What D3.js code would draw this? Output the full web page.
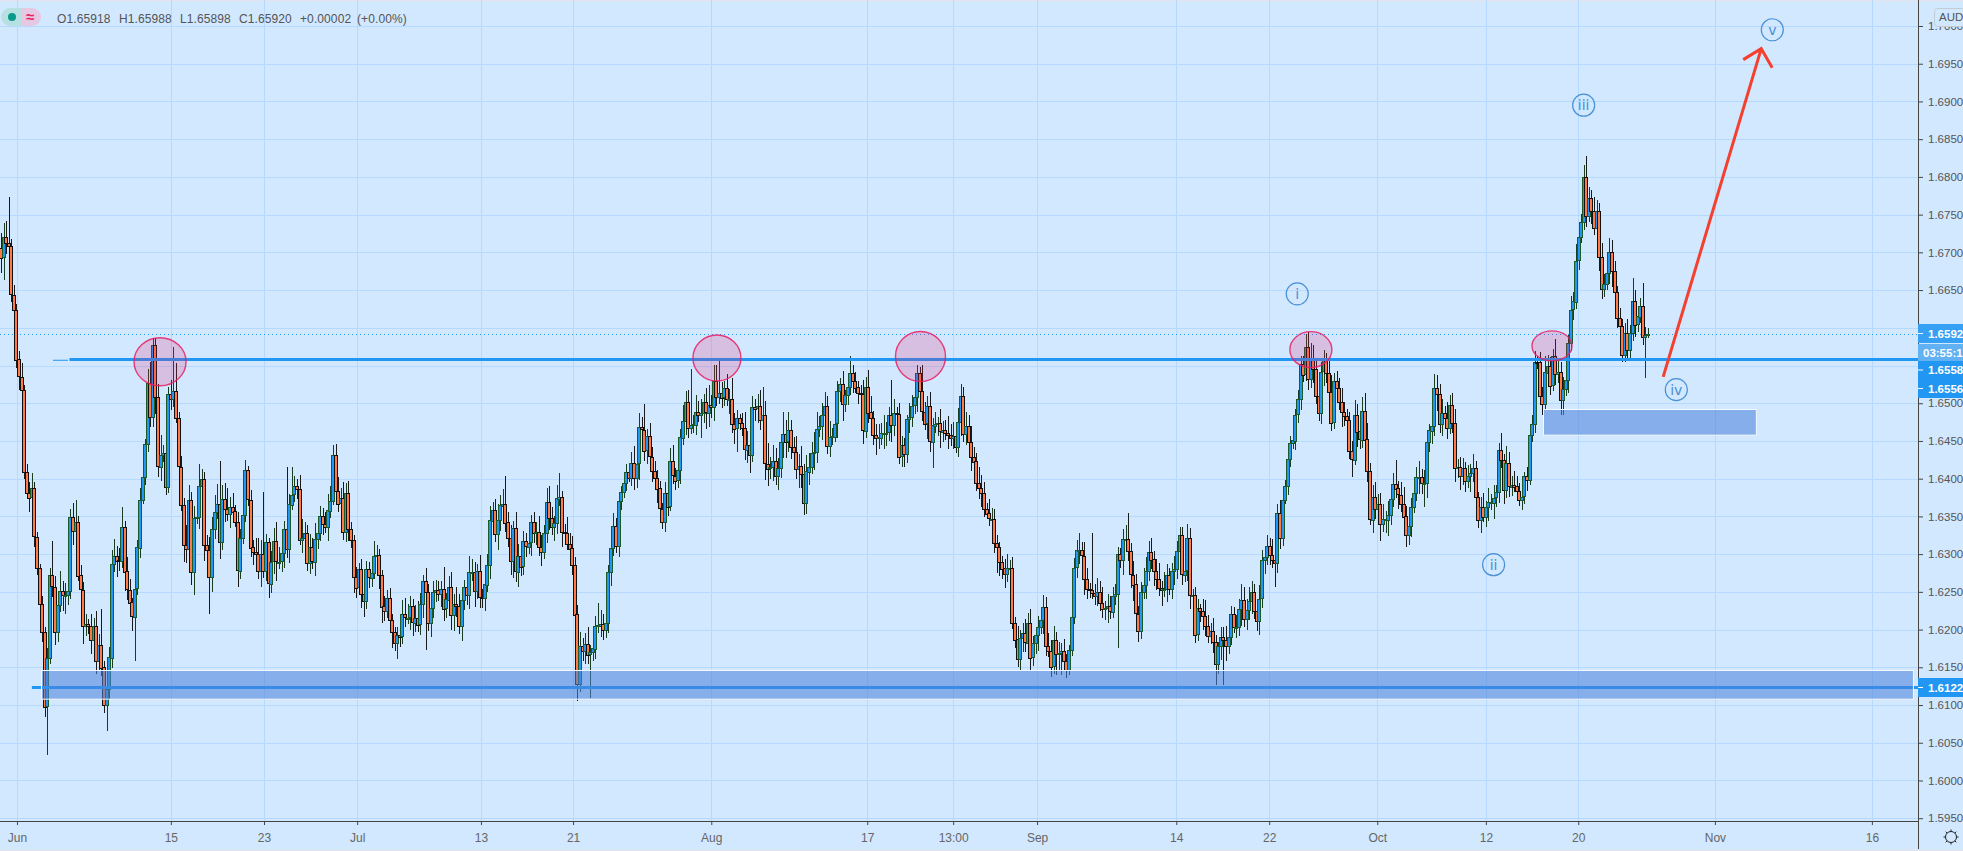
<!DOCTYPE html>
<html>
<head>
<meta charset="utf-8">
<title>AUD chart</title>
<script src="https://cdn.jsdelivr.net/npm/d3@7/dist/d3.min.js"></script>
<style>
  html, body { margin: 0; padding: 0; background: #d1e8ff; overflow: hidden; }
  svg { display: block; font-family: "Liberation Sans", Arial, sans-serif; }
  .domain { display: none; }
</style>
</head>
<body>
<svg id="chart" width="1963" height="851"></svg>
<script>
// all candle values are in pips above 1.6000
const firstOpen = 706;

const closes = [
  693,720,712,708,644,624,558,535,518,409,
  381,375,387,323,282,234,197,98,162,272,
  257,197,233,251,246,246,251,349,331,343,
  272,253,205,208,205,186,205,159,180,150,
  100,121,163,287,298,292,291,336,277,253,
  236,217,254,309,372,402,446,527,482,577,
  508,416,432,434,389,512,505,516,480,416,
  365,312,307,372,277,348,349,390,399,312,
  305,269,333,356,367,316,373,360,354,363,
  357,342,278,322,352,411,372,309,303,300,
  278,300,278,316,261,290,317,290,290,301,
  333,306,366,379,390,386,318,321,328,288,
  309,290,320,328,350,340,336,358,371,432,
  384,367,374,329,381,333,319,270,256,280,
  247,238,280,269,275,298,299,273,231,225,
  242,213,197,183,193,191,220,216,216,231,
  210,216,207,234,265,250,209,229,250,253,
  248,254,228,240,257,220,234,231,204,239,
  256,246,276,276,251,277,243,242,260,286,
  345,359,327,345,
  // from 21 Jul
  365,367,342,321,290,334,277,298,284,317,
  310,315,342,328,329,309,303,328,369,348,
  336,341,374,376,329,328,314,308,286,220,
  127,178,172,181,167,170,175,205,206,208,
  200,209,276,308,337,310,370,382,394,409,
  401,421,401,420,468,465,437,456,429,410,
  401,387,360,343,381,363,423,404,398,411,
  455,477,502,467,471,472,489,485,487,501,
  488,498,495,530,509,514,508,520,505,506,
  473,467,480,474,467,439,445,432,495,493,
  496,478,484,420,414,415,423,403,414,448,
  459,449,464,442,435,413,417,406,367,410,
  416,434,435,466,470,484,496,443,455,456,
  473,516,525,499,511,522,540,530,521,513,
  512,464,522,488,480,458,454,455,461,461,
  461,484,471,487,486,429,444,432,479,482,
  497,508,540,516,489,473,496,449,471,473,
  474,463,465,461,458,454,457,442,475,510,
  459,470,449,429,423,394,387,381,360,354,
  347,347,315,310,290,
  // late Aug to mid Oct
  281,273,281,282,209,187,161,189,195,183,
  209,163,182,193,204,213,230,178,172,151,
  186,168,169,172,159,147,173,217,282,305,
  305,298,267,254,253,249,245,250,235,227,
  228,231,224,245,247,300,292,320,320,304,
  273,260,221,198,250,259,278,303,293,277,
  267,255,253,254,273,254,278,280,304,325,
  273,278,321,245,246,193,228,224,218,205,
  192,198,183,154,178,190,186,178,190,220,
  203,203,227,239,214,226,238,250,225,212,
  241,292,296,311,299,292,288,354,321,372,
  390,426,447,451,485,505,552,538,574,531,
  558,545,509,487,542,557,540,515,474,529,
  520,501,488,483,478,437,426,485,463,452,
  490,452,410,346,376,360,367,340,346,346,
  352,373,393,387,379,367,350,325,337,362,
  381,402,402,394,394,448,464,470,520,512,
  472,487,480,467,498,474,415,415,403,414,
  397,404,408,414,376,346,363,350,363,369,
  369,375,382,438,
  // last stretch
  425,385,421,390,392,390,384,372,376,403,
  398,458,473,555,554,509,498,541,550,524,
  562,538,541,504,519,531,580,624,635,689,
  720,740,800,748,772,755,733,755,694,652,
  658,672,700,675,647,613,602,564,593,571,
  593,636,604,615,629,588,591,592
];

// typical wick lengths, bar by bar
const wickUp = [
  19,30,22,14,10,13,8,11,18,6, 10,14,21,8,6,5,11,6,13,10,
  22,14,18,26,13,16,22,11,19,29, 8,14,10,13,6,16,11,19,14,10,
  8,6,14,18,22,13,16,26,8,19, 14,6,11,10,16,13,6,19,22,10,
  14,18,26,11,8,10,19,22,13,8, 14,10,26,19,11,16,22,29,14,10,
  13,18,16,22,26,14,19,21,27,13, 18,8,14,11,19,14,6,13,10,18,
  22,19,14,11,6,14,18,26,19,14, 11,21,14,18,13,10,19,26,14,11,
  18,13,21,19,14,11,16,22,19,13, 10,18,14,22,13,16,10,6,13,8,
  14,8,11,10,22,19,13,8,6,14, 10,13,8,6,11,10,19,22,18,14,
  10,16,22,14,8,21,10,18,14,13, 11,10,16,8,14,19,13,22,16,11,
  10,14,21,18,13,10,22,11,18,14, 19,10,14,22,
  13,19,10,14,18,10,22,16,13,14, 11,18,10,14,13,22,16,11,18,19,
  14,10,18,13,8,11,21,14,16,10, 13,19,11,14,22,10,16,13,8,18,
  13,16,10,14,18,11,13,8,14,10, 6,14,22,13,19,14,16,10,18,13,
  14,11,10,8,14,13,18,22,10,8, 11,21,14,16,10,13,22,14,18,11,
  19,26,13,14,21,18,14,10,19,13, 10,14,11,6,13,21,18,16,14,11,
  16,22,14,19,27,14,22,18,13,11, 30,19,24,14,13,22,16,26,14,21,
  18,14,27,22,13,16,19,14,21,11, 10,14,8,18,6,13,22,16,11,8,
  11,19,13,22,21,10,14,18,13,24, 14,11,18,19,8,14,13,10,6,18,
  14,19,11,8,21,13,14,19,10,16, 8,18,11,13,22,14,18,11,19,16,
  22,18,14,21,13,11,22,18,14,8, 19,14,13,10,6,
  8,13,19,10,14,8,18,11,14,19, 13,18,10,11,14,8,16,13,18,14,
  19,11,14,10,16,8,6,10,13,14, 21,11,18,14,8,13,11,19,14,22,
  10,16,13,11,14,10,8,13,18,19, 11,18,14,10,13,22,18,14,19,11,
  16,21,10,22,14,8,10,18,14,11, 22,13,19,14,8,10,13,6,16,21,
  14,11,18,10,6,14,13,19,14,11, 10,16,13,22,18,14,19,14,11,10,
  18,13,8,14,11,21,14,13,18,11, 8,6,10,14,8,13,11,10,18,14,
  22,19,14,21,13,14,10,18,22,11, 14,13,19,14,10,11,13,19,14,8,
  18,14,22,11,16,19,13,14,21,11, 19,8,14,18,10,16,22,14,19,13,
  10,14,21,11,18,13,8,14,19,11, 14,18,10,22,13,16,19,11,14,13,
  8,14,11,19,10,6,13,18,8,19, 11,16,10,14,13,8,22,14,11,18,
  14,10,8,6,13,10,11,14,8,19, 13,21,14,11,10,22,18,14,16,13,
  10,18,13,22,14,11,8,13,14,10, 19,14,11,18,13,10,19,16,14,8,
  13,10,14,18,11,10,14,13,11,8,10,6
];

const wickDown = [
  21,19,14,11,10,8,11,18,14,10, 6,19,11,14,10,8,13,14,22,8,
  14,18,13,10,21,26,14,11,19,10, 8,13,24,14,11,19,10,18,13,11,
  10,22,13,14,11,22,14,10,26,14, 11,19,10,8,14,6,11,10,14,13,
  22,14,19,10,11,8,14,10,6,13, 8,22,19,14,18,11,8,16,13,21,
  14,22,19,13,10,22,11,18,10,19, 14,6,22,11,8,10,8,13,18,19,
  11,22,10,14,19,13,16,26,10,14, 19,11,18,8,10,13,6,16,21,11,
  14,10,19,13,11,14,8,18,10,6, 19,11,18,10,13,16,11,22,14,10,
  18,21,11,14,13,8,10,19,22,14, 10,14,21,11,22,14,10,13,8,16,
  19,13,10,14,18,22,11,19,14,13, 10,18,16,13,14,11,22,14,10,19,
  13,14,19,11,21,10,14,13,18,10, 19,8,11,22,
  14,10,13,11,18,21,14,22,13,11, 14,10,18,13,16,11,19,10,13,16,
  11,18,14,10,19,13,8,16,14,11, 21,10,14,18,13,22,11,14,10,16,
  14,11,13,18,10,8,14,11,8,10, 6,11,16,14,22,19,13,18,10,14,
  11,19,8,10,14,13,6,11,13,10, 18,11,19,13,8,11,14,10,16,13,
  22,19,14,18,13,10,14,11,8,19, 13,21,14,10,11,14,18,13,10,16,
  19,14,13,22,26,14,18,11,19,13, 21,22,14,16,19,13,26,18,11,14,
  18,10,22,14,11,19,13,10,14,11, 8,19,14,22,10,13,11,16,8,14,
  11,18,10,14,19,13,22,14,10,21, 18,11,22,14,19,10,13,16,11,18,
  14,11,19,10,13,8,21,14,10,11, 16,22,14,10,19,11,14,8,13,18,
  10,14,11,19,13,10,14,18,11,8, 10,6,13,11,19,
  14,18,10,13,8,11,10,14,19,13, 8,18,11,14,21,10,19,13,8,14,
  10,18,22,13,14,11,13,8,10,14, 18,13,21,14,11,8,13,14,10,11,
  14,19,10,8,13,14,11,19,10,13, 18,22,8,14,11,10,18,14,13,19,
  14,11,22,10,18,8,14,19,13,11, 14,10,13,18,22,11,8,14,19,13,
  10,11,14,22,13,18,14,19,11,10, 8,14,11,22,10,14,13,18,11,14,
  19,13,18,10,14,11,8,13,14,10, 6,11,10,8,13,11,14,10,8,13,
  11,18,10,22,14,19,13,21,11,8, 14,10,19,13,14,11,18,8,21,13,
  11,19,14,8,18,13,14,19,11,18, 22,14,10,13,19,11,14,18,13,14,
  8,11,22,14,10,19,13,18,14,22, 11,16,10,14,8,13,19,14,18,11,
  14,10,21,13,18,11,16,8,14,19, 10,22,13,14,11,18,10,14,13,8,
  11,8,13,10,14,6,10,13,8,11, 14,10,19,13,8,14,11,19,13,10,
  18,11,14,10,13,8,11,14,8,18, 10,13,19,14,11,8,14,21,10,13,
  11,14,10,13,14,11,16,10,8,11,6,5
];

// bars whose wicks stand well clear of the rest: [bar, pips]
const longHighs = [[1,739],[3,773],[20,318],[39,227],[58,555],[60,587],[67,575],[68,553],[85,424],[102,383],
  [111,416],[113,416],[130,446],[165,281],[172,283],[196,403],[213,390],[217,407],[232,235],[250,499],
  [268,546],[277,551],[279,556],[284,533],[296,521],[331,551],[346,531],[356,551],[358,551],[374,521],
  [419,328],[424,328],[438,354],[459,336],[508,594],[530,514],[542,425],[558,538],[582,447],[583,460],
  [598,568],[604,585],[615,816],[616,828],[634,666],[638,660],[640,600]];
const longLows = [[1,663],[18,34],[41,66],[52,158],[75,246],[81,221],[165,173],[175,200],[201,256],[225,117],
  [229,109],[272,454],[286,435],[291,407],[298,390],[302,385],[312,352],[362,414],[387,275],[410,140],
  [412,140],[415,140],[434,176],[472,127],[475,127],[495,257],[512,477],[525,402],[536,317],[546,309],
  [553,363],[568,392],[575,328],[600,491],[607,485],[630,554],[639,534]];

const priceTicks = [1.595,1.6,1.605,1.61,1.615,1.62,1.625,1.63,1.635,1.64,1.645,1.65,1.655,1.66,1.665,1.67,1.675,1.68,1.685,1.69,1.695,1.7];
const hiddenTicks = [1.655,1.66]; // covered by the price tags in the picture
const timeLabels = ["Jun","15","23","Jul","13","21","Aug","17","13:00","Sep","14","22","Oct","12","20","Nov","16"];
const timeBars = [6.2,66,102.2,138.4,186.5,222.3,276,336.6,370,402.6,456.7,492.8,534.8,577,612.9,666,727];

const lastPrice = 1.6592;
const resistance = 1.6558;
const support = 1.6122;
const lineStarts = [20, 12]; // first bar of the resistance and support lines

// drawn zones: left bar, right bar, top pips, bottom pips
const zoneBars = [[15.6,743],[599.3,682]];
const zonePips = [[146,108],[493,459]];

// circled tops
const circleBars = [61.8,278.2,357.3,509,602.7];
const circlePips = [555,560,562,571,576];
const circleRx = [26,24,25,21,20];
const circleRy = [24,23,25,18,15];

const waveNames = ["i","ii","iii","iv","v"];
const waveBars = [503.7,580,615,651,688.3];
const wavePips = [645,286,895,518,995];

const arrowBars = [645.9,684];
const arrowPips = [535,970];

const legendItems = ["O1.65918","H1.65988","L1.65898","C1.65920","+0.00002","(+0.00%)"];
const legendX = [57,119,180,239,300,357];

const xScale = d3.scaleLinear().domain([0,640]).range([1,1648]);
const yScale = d3.scaleLinear().domain([1.595,1.7]).range([818.2,26]);
const pipY = p => yScale(1.6 + p / 10000);

const bg = "#d1e8ff", gridCol = "#b5d9ff", lineBlue = "#2196f3", pink = "#e91e63", waveBlue = "#4a90d4";

const hiMap = new Map(longHighs), loMap = new Map(longLows);
const bars = closes.map((c, i) => {
  let o = i ? closes[i - 1] : firstOpen;
  let h = Math.max(o, c) + wickUp[i];
  let l = Math.min(o, c) - wickDown[i];
  if (hiMap.has(i)) h = hiMap.get(i);
  if (loMap.has(i)) l = loMap.get(i);
  return {i, o, c, h, l, up: c >= o};
});

const svg = d3.select("#chart");
svg.append("rect").attr("width",1963).attr("height",851).attr("fill",bg);
svg.append("rect").attr("width",1963).attr("height",1.5).attr("fill","#e0e3eb");
svg.append("rect").attr("y",849.5).attr("width",1963).attr("height",1.5).attr("fill","#e0e3eb");

// grid
const px = v => Math.round(v) + 0.5;
svg.append("g").selectAll("line").data(priceTicks).enter().append("line")
  .attr("x1",0).attr("x2",1918)
  .attr("y1",d => px(yScale(d))).attr("y2",d => px(yScale(d)))
  .attr("stroke",gridCol);
svg.append("g").selectAll("line").data(timeBars).enter().append("line")
  .attr("y1",0).attr("y2",821)
  .attr("x1",d => px(xScale(d))).attr("x2",d => px(xScale(d)))
  .attr("stroke",gridCol);

// last price dotted line
svg.append("line").attr("x1",0).attr("x2",1918)
  .attr("y1",px(yScale(lastPrice))).attr("y2",px(yScale(lastPrice)))
  .attr("stroke",lineBlue).attr("stroke-dasharray","1 3");

// candles
const candles = svg.append("g").attr("shape-rendering","crispEdges");
candles.selectAll("line").data(bars).enter().append("line")
  .attr("x1",d => px(xScale(d.i))).attr("x2",d => px(xScale(d.i)))
  .attr("y1",d => pipY(d.h)).attr("y2",d => pipY(d.l))
  .attr("stroke",d => d.up ? "#173f1f" : "#1a1a1a");
candles.selectAll("rect").data(bars).enter().append("rect")
  .attr("x",d => Math.round(xScale(d.i)) - 1.5)
  .attr("width",3)
  .attr("y",d => Math.round(pipY(Math.max(d.o,d.c))) + 0.5)
  .attr("height",d => Math.max(1, Math.round(Math.abs(pipY(d.o) - pipY(d.c)))))
  .attr("fill",d => d.up ? lineBlue : "#ff7a45")
  .attr("stroke",d => d.up ? "#1c5a2a" : "#111");

// horizontal levels
svg.append("line").attr("x1",53).attr("x2",68)
  .attr("y1",yScale(resistance) + 0.8).attr("y2",yScale(resistance) + 0.8)
  .attr("stroke",lineBlue).attr("stroke-width",1);
svg.append("line").attr("x1",xScale(lineStarts[0])+17).attr("x2",1918)
  .attr("y1",yScale(resistance)).attr("y2",yScale(resistance))
  .attr("stroke",lineBlue).attr("stroke-width",3);
svg.append("line").attr("x1",xScale(lineStarts[1])-0).attr("x2",1918)
  .attr("y1",yScale(support) - 1).attr("y2",yScale(support) - 1)
  .attr("stroke",lineBlue).attr("stroke-width",3);

// zones
svg.append("g").selectAll("rect").data(zoneBars).enter().append("rect")
  .attr("x",d => px(xScale(d[0])))
  .attr("width",d => xScale(d[1]) - xScale(d[0]))
  .attr("y",(d,i) => px(pipY(zonePips[i][0])))
  .attr("height",(d,i) => pipY(zonePips[i][1]) - pipY(zonePips[i][0]))
  .attr("fill","rgba(76,130,218,0.57)")
  .attr("stroke","#f4f8ff").attr("stroke-width",1);

// circled tops
svg.append("g").selectAll("ellipse").data(circleBars).enter().append("ellipse")
  .attr("cx",d => xScale(d))
  .attr("cy",(d,i) => pipY(circlePips[i]))
  .attr("rx",(d,i) => circleRx[i]).attr("ry",(d,i) => circleRy[i])
  .attr("fill",pink).attr("fill-opacity",0.2)
  .attr("stroke",pink).attr("stroke-opacity",0.85).attr("stroke-width",1.4);

// wave labels
const waves = svg.append("g").selectAll("g").data(waveNames).enter().append("g")
  .attr("transform",(d,i) => `translate(${xScale(waveBars[i])},${pipY(wavePips[i])})`);
waves.append("circle").attr("r",11).attr("fill","none").attr("stroke",waveBlue).attr("stroke-width",1.2);
waves.append("text").text(d => d).attr("text-anchor","middle").attr("y",5)
  .attr("font-size",14).attr("font-family","DejaVu Sans").attr("fill",waveBlue);

// red arrow
const tipX = xScale(arrowBars[1]), tipY = pipY(arrowPips[1]);
svg.append("path")
  .attr("d",`M${xScale(arrowBars[0])},${pipY(arrowPips[0])}L${tipX},${tipY}M${tipX-18},${tipY+11}L${tipX},${tipY}L${tipX+11},${tipY+19}`)
  .attr("fill","none").attr("stroke","#f4402f").attr("stroke-width",3);

// axes
const yAxis = d3.axisRight(yScale).tickValues(priceTicks)
  .tickFormat(d => hiddenTicks.includes(d) ? "" : d3.format(".4f")(d)).tickSize(5).tickPadding(5);
const yG = svg.append("g").attr("transform","translate(1918,0)").call(yAxis);
yG.selectAll("text").attr("font-size",11.5).attr("fill","#555");
yG.selectAll("line").attr("stroke","#444");

const xAxis = d3.axisBottom(xScale).tickValues(timeBars).tickFormat((d,i) => timeLabels[i]).tickSize(4).tickPadding(8);
const xG = svg.append("g").attr("transform","translate(0,821)").call(xAxis);
xG.selectAll("text").attr("font-size",12).attr("fill","#666");
xG.selectAll("line").attr("stroke","#444");

svg.append("line").attr("x1",0).attr("x2",1918).attr("y1",821.5).attr("y2",821.5).attr("stroke","#444");
svg.append("line").attr("x1",1918.5).attr("x2",1918.5).attr("y1",0).attr("y2",849).attr("stroke","#444");

// price tags on the axis
const tagLabels = ["1.6592","03:55:1","1.6558","1.6556","1.6122"];
const tagTops = [324,344,361,379,678];
const tagHeights = [19,17,18,19,19];
const tagFills = ["#36a0f5","#62b1f2",lineBlue,lineBlue,lineBlue];
const tagX = [1928,1923,1928,1928,1928];
const tags = svg.append("g").selectAll("g").data(tagLabels).enter().append("g");
tags.append("rect").attr("x",1918).attr("width",45)
  .attr("y",(d,i) => tagTops[i]).attr("height",(d,i) => tagHeights[i])
  .attr("fill",(d,i) => tagFills[i]);
tags.append("text").text(d => d)
  .attr("x",(d,i) => tagX[i]).attr("y",(d,i) => tagTops[i] + tagHeights[i] / 2 + 4.2)
  .attr("font-size",11.5).attr("font-weight","bold").attr("fill","#fff");
tags.filter((d,i) => i != 1).append("line").attr("x1",1918).attr("x2",1923)
  .attr("y1",(d) => tagTops[tagLabels.indexOf(d)] + tagHeights[tagLabels.indexOf(d)] / 2)
  .attr("y2",(d) => tagTops[tagLabels.indexOf(d)] + tagHeights[tagLabels.indexOf(d)] / 2)
  .attr("stroke","#fff");

// currency badge
svg.append("rect").attr("x",1934.5).attr("y",8.5).attr("width",30).attr("height",18).attr("rx",3)
  .attr("fill",bg).attr("stroke","#c3ccd6");
svg.append("text").text("AUD").attr("x",1939).attr("y",21).attr("font-size",11.5).attr("fill","#555");

// status pill and legend
svg.append("path").attr("d","M21,8H10a9,9 0 0 0 0,18H21Z").attr("fill","#b7e0e2");
svg.append("path").attr("d","M21,8H32a9,9 0 0 1 0,18H21Z").attr("fill","#e6c8e2");
svg.append("circle").attr("cx",12).attr("cy",17).attr("r",4).attr("fill","#0a9a8a");
svg.append("text").text("≈").attr("x",30).attr("y",22).attr("text-anchor","middle")
  .attr("font-size",15).attr("font-weight","bold").attr("fill",pink);
svg.append("g").selectAll("text").data(legendItems).enter().append("text")
  .text(d => d).attr("x",(d,i) => legendX[i]).attr("y",23)
  .attr("font-size",12).attr("letter-spacing",0.1).attr("fill","#555");

// settings gear
const gear = svg.append("g").attr("transform","translate(1951,837)").attr("stroke","#222").attr("fill","none");
gear.append("circle").attr("r",5.5);
gear.selectAll("line").data(d3.range(8)).enter().append("line")
  .attr("x1",d => 5.5 * Math.cos(d * Math.PI / 4)).attr("y1",d => 5.5 * Math.sin(d * Math.PI / 4))
  .attr("x2",d => 7.5 * Math.cos(d * Math.PI / 4)).attr("y2",d => 7.5 * Math.sin(d * Math.PI / 4));
</script>
</body>
</html>
